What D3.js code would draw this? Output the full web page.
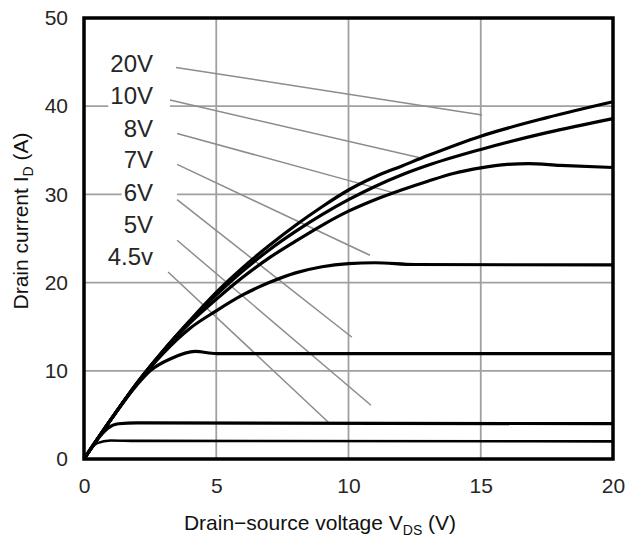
<!DOCTYPE html>
<html>
<head>
<meta charset="utf-8">
<script src="https://cdn.jsdelivr.net/npm/d3@7"></script>
<style>
  html, body { margin: 0; padding: 0; background: #fff; }
  svg { display: block; }
  text { font-family: "Liberation Sans", Arial, sans-serif; }
</style>
</head>
<body>
<svg id="chart" width="628" height="538"></svg>
<script>
// ---- Data ----
const xTicks = [0, 5, 10, 15, 20];
const yTicks = [0, 10, 20, 30, 40, 50];
const gateLabels = ["20V", "10V", "8V", "7V", "6V", "5V", "4.5v"];

// Vds (V), Id (A) points for each gate voltage
const vgs20 = [[0,0],[1,4.4],[2,8.6],[3,12.3],[4,15.7],[5,18.9],[6,21.7],[7,24.2],[8,26.5],[9,28.6],[10,30.5],[11,32.0],[12,33.2],[13,34.4],[15,36.6],[17.5,38.7],[20,40.5]];
const vgs10 = [[0,0],[1,4.4],[2,8.6],[3,12.3],[4,15.6],[5,18.6],[6,21.3],[7,23.7],[8,25.8],[9,27.7],[10,29.4],[11,30.9],[12,32.2],[13,33.3],[15,35.1],[17.5,37.0],[20,38.6]];
const vgs8  = [[0,0],[1,4.4],[2,8.6],[3,12.2],[4,15.4],[5,18.1],[6,20.6],[7,22.8],[8,24.7],[9,26.5],[10,28.1],[11,29.4],[12,30.5],[13,31.5],[14,32.4],[15,33.0],[16,33.4],[16.8,33.5],[18,33.3],[20,33.05]];
const vgs7  = [[0,0],[1,4.4],[2,8.5],[3,12.0],[4,14.8],[5,16.8],[6,18.6],[7,20.0],[8,21.1],[9,21.8],[10,22.15],[11,22.25],[12.5,22.05],[20,22]];
const vgs6  = [[0,0],[1,4.4],[2,8.4],[2.5,10.0],[3.3,11.4],[4.2,12.2],[5,11.95],[20,11.95]];
const vgs5  = [[0,0],[0.5,2.2],[0.9,3.5],[1.3,4.0],[2,4.1],[20,4.0]];
const vgs45 = [[0,0],[0.5,1.8],[1,2.1],[2,2.05],[20,2.0]];
const seriesList = [vgs20, vgs10, vgs8, vgs7, vgs6, vgs5, vgs45];

// Leader line endpoints in data units: [x1, y1, x2, y2]
const leaders = [
  [3.48, 44.4, 15.05, 39.0],
  [3.25, 40.7, 12.78, 34.1],
  [3.52, 36.9, 11.68, 30.2],
  [3.52, 33.4, 10.81, 23.1],
  [3.52, 29.4, 10.13, 13.8],
  [3.52, 24.8, 10.85, 6.1],
  [3.18, 21.2, 9.30, 4.0]
];

// ---- Layout ----
const W = 628, H = 538;
const margin = {left: 84, top: 18, right: 15, bottom: 79};
const svg = d3.select("#chart");

const x = d3.scaleLinear().domain([0, 20]).range([margin.left, W - margin.right]);
const y = d3.scaleLinear().domain([0, 50]).range([H - margin.bottom, margin.top]);

// grid
const grid = svg.append("g");
grid.selectAll("line.vx").data(xTicks.slice(1, -1)).join("line")
  .attr("x1", d => x(d)).attr("x2", d => x(d))
  .attr("y1", y(50)).attr("y2", y(0))
  .attr("stroke", "#a0a0a0").attr("stroke-width", 1.8);
grid.selectAll("line.hy").data(yTicks.slice(1, -1)).join("line")
  .attr("x1", x(0)).attr("x2", x(20))
  .attr("y1", d => y(d)).attr("y2", d => y(d))
  .attr("stroke", "#a0a0a0").attr("stroke-width", 1.8);

// label backgrounds + labels
const labelX = 153;
const labelBaselines = [72, 104, 137, 168, 201, 233, 265];
const labG = svg.append("g");
gateLabels.forEach((t, i) => {
  const txt = labG.append("text")
    .attr("x", labelX).attr("y", labelBaselines[i])
    .attr("text-anchor", "end")
    .attr("font-size", 24)
    .attr("fill", "#262626")
    .text(t);
  const bb = txt.node().getBBox();
  const leaderStart = x(leaders[i][0]);
  labG.insert("rect", "text")
    .attr("x", bb.x - 2).attr("y", bb.y + 2)
    .attr("width", leaderStart - bb.x + 2)
    .attr("height", bb.height - 4)
    .attr("fill", "#fff");
});

// leader lines
svg.append("g").selectAll("line").data(leaders).join("line")
  .attr("x1", d => x(d[0])).attr("y1", d => y(d[1]))
  .attr("x2", d => x(d[2])).attr("y2", d => y(d[3]))
  .attr("stroke", "#8c8c8c").attr("stroke-width", 1.5);

// curves
const line = d3.line().x(d => x(d[0])).y(d => y(d[1])).curve(d3.curveMonotoneX);
svg.append("g").selectAll("path").data(seriesList).join("path")
  .attr("d", line)
  .attr("fill", "none")
  .attr("stroke", "#000")
  .attr("stroke-width", (d, i) => i === 6 ? 2.6 : 3.2)
  .attr("stroke-linejoin", "round");

// frame
svg.append("rect")
  .attr("x", x(0)).attr("y", y(50))
  .attr("width", x(20) - x(0)).attr("height", y(0) - y(50))
  .attr("fill", "none").attr("stroke", "#000").attr("stroke-width", 3.5);

// axes tick labels via d3 axes
const xAxis = d3.axisBottom(x).tickValues(xTicks).tickSize(0).tickPadding(0);
const gx = svg.append("g").attr("transform", `translate(0,${y(0) + 19})`).call(xAxis);
gx.select(".domain").remove();
gx.selectAll("text").attr("font-size", 21).attr("fill", "#262626")
  .attr("font-family", "'Liberation Sans', Arial, sans-serif");

const yAxis = d3.axisLeft(y).tickValues(yTicks).tickSize(0).tickPadding(0);
const gy = svg.append("g").attr("transform", `translate(${x(0) - 16},0)`).call(yAxis);
gy.select(".domain").remove();
gy.selectAll("text").attr("font-size", 21).attr("fill", "#262626")
  .attr("font-family", "'Liberation Sans', Arial, sans-serif");

// axis titles
const xt = svg.append("text")
  .attr("x", 320).attr("y", 530)
  .attr("text-anchor", "middle").attr("font-size", 21).attr("fill", "#111");
xt.append("tspan").text("Drain\u2212source voltage V");
xt.append("tspan").attr("font-size", 14).attr("dy", 5).text("DS");
xt.append("tspan").attr("dy", -5).text(" (V)");

const yt = svg.append("text")
  .attr("transform", "translate(28,221) rotate(-90)")
  .attr("text-anchor", "middle").attr("font-size", 21).attr("fill", "#111");
yt.append("tspan").text("Drain current I");
yt.append("tspan").attr("font-size", 14).attr("dy", 5).text("D");
yt.append("tspan").attr("dy", -5).text(" (A)");
</script>
</body>
</html>
